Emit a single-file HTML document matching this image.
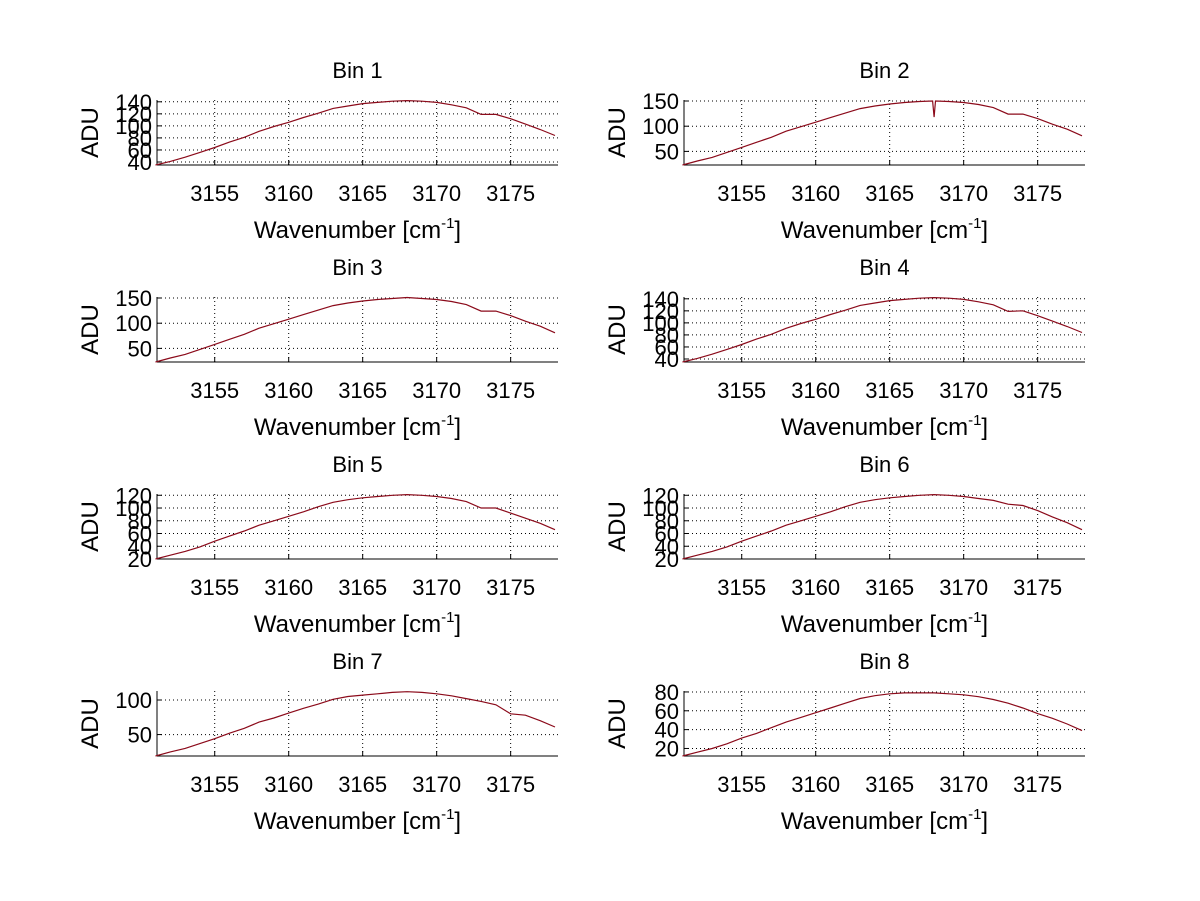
<!DOCTYPE html>
<html><head><meta charset="utf-8"><style>
html,body{margin:0;padding:0;background:#fff;}
svg{display:block;font-family:"Liberation Sans",sans-serif;}
</style></head><body>
<svg id="fig" width="1200" height="901" xmlns="http://www.w3.org/2000/svg"></svg>
<script>
const xs = [3151,3152,3153,3154,3155,3156,3157,3158,3159,3160,3161,3162,3163,3164,3165,3166,3167,3168,3169,3170,3171,3172,3173,3174,3175,3176,3177,3178];
const xsBin2 = [3151,3152,3153,3154,3155,3156,3157,3158,3159,3160,3161,3162,3163,3164,3165,3166,3167,3167.9,3168,3168.1,3169,3170,3171,3172,3173,3174,3175,3176,3177,3178];
const bin1 = [35,41,48,56,64,73,81,91,99,106,114,121,129,133,137,139,141,142,141,139,135,130,119,119,112,103,94,84];
const bin2 = [23,31,38,48,58,68,78,90,99,108,117,126,135,140,144,147,149,150,118,150,149,147,143,137,124,124,115,104,94,81];
const bin3 = [23,31,38,48,58,68,78,90,99,108,117,126,135,140,144,147,149,151,149,147,143,137,124,124,115,104,94,81];
const bin4 = [35,41,48,56,64,73,81,91,99,106,114,121,129,133,137,139,141,142,141,139,135,130,119,120,112,103,94,84];
const bin5 = [20,26,32,39,48,56,64,73,80,87,94,102,109,113,116,118,120,121,120,118,115,110,100,100,92,84,76,66];
const bin6 = [20,26,32,39,48,56,64,73,80,87,94,102,109,113,116,118,120,121,120,118,115,112,106,104,96,86,77,66];
const bin7 = [19,25,30,37,44,52,59,68,74,81,88,94,101,105,107,109,111,112,111,109,106,102,98,93,80,78,70,61];
const bin8 = [12,16,20,25,31,36,42,48,53,58,63,68,73,76,78,79,79,79,78,77,75,72,68,63,57,52,46,39];
const xTicks = [3155,3160,3165,3170,3175];
const yTicks1 = [40,60,80,100,120,140];
const yTicks2 = [50,100,150];
const yTicks5 = [20,40,60,80,100,120];
const yTicks7 = [50,100];
const yTicks8 = [20,40,60,80];
const yLims = [[35,143],[23,152],[23,152],[35,143],[20,122],[20,122],[19,113],[12,81]];
const panels = [
 {t:'Bin 1',x:xs,y:bin1,yt:yTicks1},{t:'Bin 2',x:xsBin2,y:bin2,yt:yTicks2},
 {t:'Bin 3',x:xs,y:bin3,yt:yTicks2},{t:'Bin 4',x:xs,y:bin4,yt:yTicks1},
 {t:'Bin 5',x:xs,y:bin5,yt:yTicks5},{t:'Bin 6',x:xs,y:bin6,yt:yTicks5},
 {t:'Bin 7',x:xs,y:bin7,yt:yTicks7},{t:'Bin 8',x:xs,y:bin8,yt:yTicks8}];
const XMIN=3151.1, XMAX=3178.2;
const svg=document.getElementById('fig');
const NS='http://www.w3.org/2000/svg';
function mk(tag,attrs,parent){const e=document.createElementNS(NS,tag);for(const k in attrs)e.setAttribute(k,attrs[k]);parent.appendChild(e);return e;}
const lefts=[157,684], tops=[100,297,494,691], W=401, H=65;
panels.forEach((p,i)=>{
 const L=lefts[i%2], T=tops[Math.floor(i/2)], B=T+H, R=L+W;
 const [y0,y1]=yLims[i];
 const sx=v=>L+(v-XMIN)/(XMAX-XMIN)*W;
 const sy=v=>B-(v-y0)/(y1-y0)*H;
 const g=mk('g',{},svg);
 
 
 xTicks.forEach(t=>{
  const gl=mk('line',{x1:sx(t),x2:sx(t),y1:T,y2:B,stroke:'#000','stroke-width':1,'stroke-dasharray':'1,3'},g);
  
  
  mk('line',{x1:sx(t),x2:sx(t),y1:B,y2:B-5,stroke:'#000'},g);
  const tx=mk('text',{x:sx(t),y:B+36,'font-size':22,'text-anchor':'middle'},g);
  tx.textContent=t;
  
  
 });
 p.yt.forEach(t=>{
  const gl=mk('line',{x1:L,x2:R,y1:sy(t),y2:sy(t),stroke:'#000','stroke-width':1,'stroke-dasharray':'1,3'},g);
  
  
  mk('line',{x1:L,x2:L+5,y1:sy(t),y2:sy(t),stroke:'#000'},g);
  const tx=mk('text',{x:L-5,y:sy(t)+8,'font-size':22,'text-anchor':'end'},g);
  tx.textContent=t;
  
  
 });
 mk('line',{x1:L,x2:L,y1:T,y2:B,stroke:'#000'},g);
 mk('line',{x1:L,x2:R,y1:B,y2:B,stroke:'#000'},g);
 const pts=p.x.map((x,k)=>sx(x).toFixed(1)+','+sy(p.y[k]).toFixed(1)).join(' ');
 const ln=mk('polyline',{points:pts,fill:'none',stroke:'#8b0a1a','stroke-width':1.2},g);
 
 
 const ti=mk('text',{x:L+W/2,y:T-22,'font-size':22,'text-anchor':'middle'},g);
 ti.textContent=p.t;
 
 
 const xl=mk('text',{x:L+W/2,y:B+73,'font-size':24,'text-anchor':'middle'},g);
 xl.innerHTML='Wavenumber [cm<tspan dy="-10" font-size="15">-1</tspan><tspan dy="10">]</tspan>';
 
 
 const yl=mk('text',{x:0,y:0,'font-size':24,'text-anchor':'middle',transform:`translate(${L-59},${T+H/2}) rotate(-90)`},g);
 yl.textContent='ADU';
 
 
});
</script>
</body></html>
